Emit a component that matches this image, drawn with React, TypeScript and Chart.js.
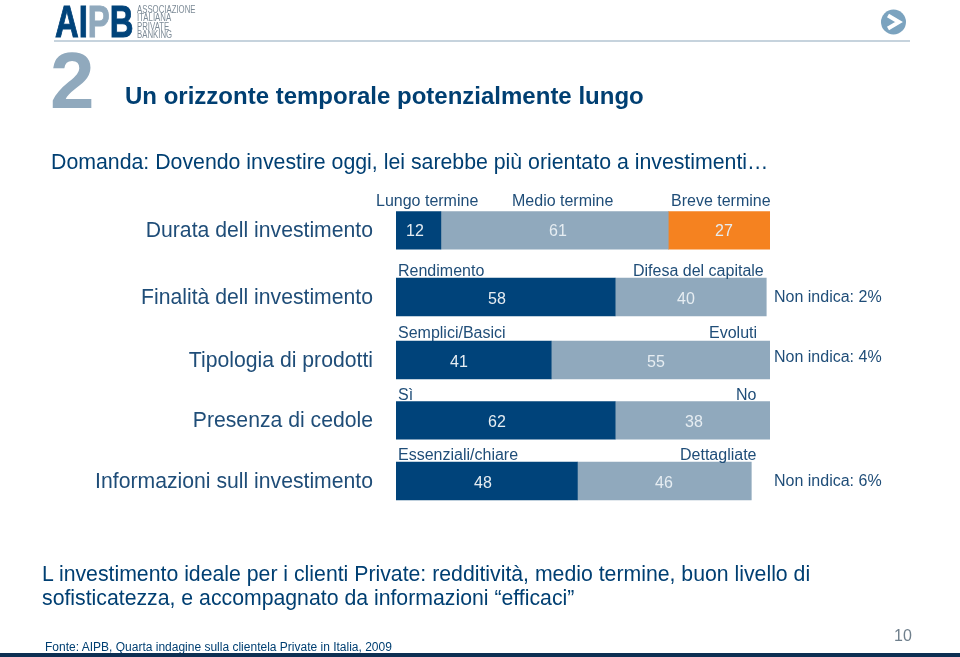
import React, { useEffect, useRef } from "react";
import { Chart, registerables, CategoryScale } from "chart.js";

const categories = [
  "Durata dell investimento",
  "Finalità dell investimento",
  "Tipologia di prodotti",
  "Presenza di cedole",
  "Informazioni sull investimento",
];
// Bar lengths as drawn in the picture (share of the full 100 width)
const darkLengths = [12, 58.6, 41.5, 58.6, 48.5];
const midLengths = [60.8, 40.4, 58.5, 41.4, 46.5];
const orangeLengths = [27.2, null, null, null, null];
// Numbers as printed on the bars
const darkPrinted = ["12", "58", "41", "62", "48"];
const midPrinted = ["61", "40", "55", "38", "46"];
const orangePrinted = ["27", "", "", "", ""];
const topNames = [
  ["Lungo termine", "Medio termine", "Breve termine"],
  ["Rendimento", "Difesa del capitale"],
  ["Semplici/Basici", "Evoluti"],
  ["Sì", "No"],
  ["Essenziali/chiare", "Dettagliate"],
];
const noAnswer = ["", "Non indica: 2%", "Non indica: 4%", "", "Non indica: 6%"];

// Layout only
const rowShift = [-0.6, 4, 5, 3.4, 2];
const nameX = [[376, 512, 671], [398, 633], [398, 709], [398, 736], [398, 680]];
const nameY = [202, 272, 334, 396, 456];
const printedX = [[415, 558, 724], [497, 686], [459, 656], [497, 694], [483, 664]];
const printedY = [232, 299.5, 362.5, 422.5, 483.5];
const noAnswerY = [0, 298, 358, 0, 482];

const NAVY = "#003f72";
const DARK = "#00437a";
const MID = "#90a9bd";
const ORANGE = "#f58220";
const SANS = '"Liberation Sans", Arial, sans-serif';

class RowScale extends CategoryScale {
  static id = "rows";
  static defaults = CategoryScale.defaults;
  getPixelForValue(value: any, index?: any) {
    const base = super.getPixelForValue(value, index);
    const i = typeof value === "number" ? value : 0;
    return base + (rowShift[i] || 0);
  }
}

Chart.register(...registerables, RowScale);

const textPlugin = {
  id: "barTexts",
  afterDatasetsDraw(chart: any) {
    const c = chart.ctx;
    c.save();
    c.textBaseline = "middle";
    c.textAlign = "left";
    c.font = `16px ${SANS}`;
    c.fillStyle = "#1f4d78";
    topNames.forEach((names, r) =>
      names.forEach((n, k) => c.fillText(n, nameX[r][k], nameY[r]))
    );
    noAnswer.forEach((n, r) => {
      if (n) c.fillText(n, 774, noAnswerY[r]);
    });
    c.textAlign = "center";
    c.font = `16px ${SANS}`;
    [darkPrinted, midPrinted, orangePrinted].forEach((vals, k) => {
      vals.forEach((v, r) => {
        if (!v) return;
        c.fillStyle = "#e6edf2";
        c.fillText(v, printedX[r][k], printedY[r]);
      });
    });
    c.restore();
  },
};

const abs = (left: number, top: number, extra: any = {}) => ({
  position: "absolute" as const,
  left,
  top,
  whiteSpace: "nowrap" as const,
  fontFamily: SANS,
  lineHeight: 1,
  color: NAVY,
  ...extra,
});

export default function App() {
  const ref = useRef<HTMLCanvasElement>(null);
  useEffect(() => {
    document.body.style.margin = "0";
    document.body.style.background = "#fff";
    const chart = new Chart(ref.current!, {
      type: "bar",
      data: {
        labels: categories,
        datasets: [
          { label: "Dark", data: darkLengths, backgroundColor: DARK },
          { label: "Mid", data: midLengths, backgroundColor: MID },
          { label: "Orange", data: orangeLengths, backgroundColor: ORANGE },
        ],
      },
      options: {
        indexAxis: "y",
        animation: false,
        responsive: false,
        layout: { padding: { left: 0, top: 200, right: 190, bottom: 147 } },
        datasets: { bar: { barThickness: 37.6, borderWidth: 0 } },
        plugins: { legend: { display: false }, tooltip: { enabled: false } },
        scales: {
          x: { stacked: true, display: false, min: 0, max: 100 },
          y: {
            type: "rows",
            stacked: true,
            afterFit(s: any) {
              s.width = 396;
            },
            grid: { display: false, drawTicks: false },
            border: { display: false },
            ticks: {
              autoSkip: false,
              padding: 23,
              labelOffset: 1,
              color: "#1f4d78",
              font: { family: SANS, size: 21.2 },
            },
          },
        },
      } as any,
      plugins: [textPlugin],
    });
    return () => chart.destroy();
  }, []);

  return (
    <div style={{ position: "absolute", left: 0, top: 0, width: 960, height: 657, overflow: "hidden", background: "#fff" }}>
      <canvas ref={ref} width={960} height={657} style={{ position: "absolute", left: 0, top: 0 }} />
      <div style={abs(55, -1, { fontSize: 45, fontWeight: 700, color: DARK, WebkitTextStroke: "1px currentColor", transform: "scaleX(0.73)", transformOrigin: "left top" })}>
        AI<span style={{ color: MID }}>P</span>B
      </div>
      <div style={abs(137, 6, { fontSize: 10, lineHeight: "8.3px", color: "#7d8b97", transform: "scaleX(0.78)", transformOrigin: "left top" })}>
        ASSOCIAZIONE<br />ITALIANA<br />PRIVATE<br />BANKING
      </div>
      <div style={{ position: "absolute", left: 54, top: 40, width: 856, height: 2, background: "#c6d3dd" }} />
      <svg width={28} height={28} style={{ position: "absolute", left: 880, top: 8 }}>
        <circle cx={13.5} cy={14} r={12.5} fill="#7ba3bf" />
        <path d="M8 7.5 L19 14 L8 20.5" stroke="#fff" strokeWidth={4} fill="none" />
      </svg>
      <div style={abs(50, 41, { fontSize: 80, fontWeight: 700, color: MID })}>2</div>
      <div style={abs(125, 84, { fontSize: 24, fontWeight: 700 })}>Un orizzonte temporale potenzialmente lungo</div>
      <div style={abs(51, 152, { fontSize: 21.3 })}>Domanda: Dovendo investire oggi, lei sarebbe più orientato a investimenti…</div>
      <div style={abs(42, 562, { fontSize: 21.25, lineHeight: "24px" })}>
        L investimento ideale per i clienti Private: redditività, medio termine, buon livello di<br />
        sofisticatezza, e accompagnato da informazioni “efficaci”
      </div>
      <div style={abs(45, 641, { fontSize: 12 })}>Fonte: AIPB, Quarta indagine sulla clientela Private in Italia, 2009</div>
      <div style={abs(894, 628, { fontSize: 16, color: "#6f7f8c" })}>10</div>
      <div style={{ position: "absolute", left: 0, top: 653, width: 960, height: 4, background: "#0d2f52" }} />
    </div>
  );
}
